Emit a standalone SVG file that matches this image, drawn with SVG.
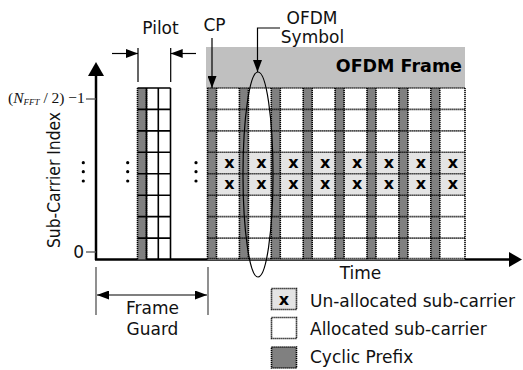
<svg xmlns="http://www.w3.org/2000/svg" width="523" height="370" viewBox="0 0 523 370">
<style>
.t{font-family:"DejaVu Sans","Liberation Sans",sans-serif;font-size:17px;fill:#111}
.b{font-family:"DejaVu Sans","Liberation Sans",sans-serif;font-weight:bold;fill:#000}
.dot{stroke:#000;stroke-width:1.6;stroke-dasharray:1.2 0.8;fill:none}
.sol{stroke:#000;stroke-width:1.6;fill:none}
.cp{fill:#808080}
.un{fill:#e4e4e4}
.ln{stroke:#000;stroke-width:1.2;fill:none}
.gl{stroke:#555;stroke-width:1.3;fill:none}
</style>
<defs>
<marker id="ah" markerUnits="userSpaceOnUse" markerWidth="13" markerHeight="9" refX="12" refY="4.5" orient="auto-start-reverse">
<path d="M0,0 L12,4.5 L0,9 z" fill="#000"/>
</marker>
</defs>
<rect width="523" height="370" fill="#fff"/>

<g id="axes">
<line x1="96" y1="260" x2="96" y2="74" stroke="#000" stroke-width="2.5"/>
<polygon points="96,62 88,76 104,76" fill="#000"/>
<line x1="95" y1="259.5" x2="511" y2="259.5" stroke="#000" stroke-width="2.5"/>
<polygon points="522,259.5 509,252 509,267" fill="#000"/>
<line x1="86" y1="99" x2="96" y2="99" class="gl"/>
<line x1="86" y1="252" x2="96" y2="252" class="gl"/>
<text x="8" y="103" font-family="Liberation Serif,serif" font-size="15.5" fill="#111">(<tspan font-style="italic">N</tspan><tspan font-style="italic" font-size="9" dy="2">FFT</tspan><tspan dy="-2"> / 2) −1</tspan></text>
<text class="t" x="84" y="258" text-anchor="end">0</text>
<text class="t" transform="translate(60,180) rotate(-90)" text-anchor="middle" textLength="136" lengthAdjust="spacingAndGlyphs">Sub-Carrier Index</text>
<text class="t" x="360.5" y="279" text-anchor="middle">Time</text>
<g fill="#000">
<circle cx="83.3" cy="162.7" r="1.6"/><circle cx="83.3" cy="171.7" r="1.6"/><circle cx="83.3" cy="181" r="1.6"/>
<circle cx="127.7" cy="162.7" r="1.6"/><circle cx="127.7" cy="171.7" r="1.6"/><circle cx="127.7" cy="181" r="1.6"/>
<circle cx="196" cy="162.7" r="1.6"/><circle cx="196" cy="171.7" r="1.6"/><circle cx="196" cy="181" r="1.6"/>
</g>
</g>

<g id="pilot">
<rect x="137.5" y="88" width="9" height="171.5" class="cp"/>
<path class="dot" d="M137.5,88V259.5M146.5,88V259.5"/>
<path class="sol" d="M146.5,88V259.5M158.3,88V259.5M170.5,88V259.5M137.5,88H170.5M137.5,109.4H170.5M137.5,130.9H170.5M137.5,152.3H170.5M137.5,173.8H170.5M137.5,195.2H170.5M137.5,216.6H170.5M137.5,238.1H170.5"/>
<path class="ln" d="M138,48V82M170.7,48V82"/>
<text class="t" x="160.5" y="34" text-anchor="middle">Pilot</text>
</g>

<g id="ofdm-frame">
<rect x="206" y="47" width="259" height="41" fill="#c0c0c0"/>
<text class="b" x="462" y="72" font-size="17.5" text-anchor="end">OFDM Frame</text>
<rect x="207.5" y="88" width="257.5" height="171.5" fill="#fff"/>
<rect x="207.5" y="152.3" width="257.5" height="42.9" class="un"/>
<g class="cp">
<rect x="207.5" y="88" width="9" height="171.5"/>
<rect x="239.4" y="88" width="9" height="171.5"/>
<rect x="271.3" y="88" width="9" height="171.5"/>
<rect x="303.2" y="88" width="9" height="171.5"/>
<rect x="335.1" y="88" width="9" height="171.5"/>
<rect x="367" y="88" width="9" height="171.5"/>
<rect x="398.9" y="88" width="9" height="171.5"/>
<rect x="430.8" y="88" width="9" height="171.5"/>
</g>
<path class="dot" d="M207.5,88H465M207.5,109.4H465M207.5,130.9H465M207.5,152.3H465M207.5,173.8H465M207.5,195.2H465M207.5,216.6H465M207.5,238.1H465M207.5,258.5H465
M207.5,88V259.5M216.5,88V259.5M239.4,88V259.5M248.4,88V259.5M271.3,88V259.5M280.3,88V259.5M303.2,88V259.5M312.2,88V259.5M335.1,88V259.5M344.1,88V259.5M367,88V259.5M376,88V259.5M398.9,88V259.5M407.9,88V259.5M430.8,88V259.5M439.8,88V259.5M465,88V259.5"/>
<g class="b" font-size="16" text-anchor="middle">
<text x="229.5" y="167.5">x</text><text x="261.4" y="167.5">x</text><text x="293.3" y="167.5">x</text><text x="325.2" y="167.5">x</text><text x="357.1" y="167.5">x</text><text x="389" y="167.5">x</text><text x="420.9" y="167.5">x</text><text x="452.8" y="167.5">x</text>
<text x="229.5" y="189">x</text><text x="261.4" y="189">x</text><text x="293.3" y="189">x</text><text x="325.2" y="189">x</text><text x="357.1" y="189">x</text><text x="389" y="189">x</text><text x="420.9" y="189">x</text><text x="452.8" y="189">x</text>
</g>
<ellipse cx="258" cy="174.5" rx="15" ry="102.5" class="ln" stroke-width="1"/>
<text class="t" x="214.5" y="31" text-anchor="middle">CP</text>
<text class="t" x="312" y="24" text-anchor="middle" font-size="16.5">OFDM</text>
<text class="t" x="312.5" y="43" text-anchor="middle" font-size="16.5">Symbol</text>
</g>

<g id="frame-guard">
<path class="gl" d="M96,267V315M208,267V315"/>
<text class="t" x="152.5" y="314" text-anchor="middle">Frame</text>
<text class="t" x="152.5" y="335" text-anchor="middle">Guard</text>
</g>

<g id="connectors">
<line x1="112" y1="53.5" x2="138" y2="53.5" class="ln" marker-end="url(#ah)"/>
<line x1="196" y1="53.5" x2="170.7" y2="53.5" class="ln" marker-end="url(#ah)"/>
<line x1="212" y1="38" x2="212" y2="88" class="ln" marker-end="url(#ah)"/>
<polyline points="280,28 257.5,28 257.5,72" class="ln" marker-end="url(#ah)"/>
<line x1="97" y1="295" x2="207" y2="295" class="ln" stroke="#222" marker-start="url(#ah)" marker-end="url(#ah)"/>
</g>

<g id="legend-unallocated">
<rect x="271.5" y="288.5" width="25" height="21" class="un"/>
<rect x="271.5" y="288.5" width="25" height="21" class="dot"/>
<text class="b" x="284" y="304.5" font-size="16" text-anchor="middle">x</text>
<text class="t" x="310" y="307">Un-allocated sub-carrier</text>
</g>
<g id="legend-allocated">
<rect x="271.5" y="317.5" width="25" height="21" fill="#fff"/>
<rect x="271.5" y="317.5" width="25" height="21" class="dot"/>
<text class="t" x="310" y="335">Allocated sub-carrier</text>
</g>
<g id="legend-cp">
<rect x="271.5" y="347" width="25" height="21" class="cp"/>
<rect x="271.5" y="347" width="25" height="21" class="dot"/>
<text class="t" x="310" y="363">Cyclic Prefix</text>
</g>
</svg>
